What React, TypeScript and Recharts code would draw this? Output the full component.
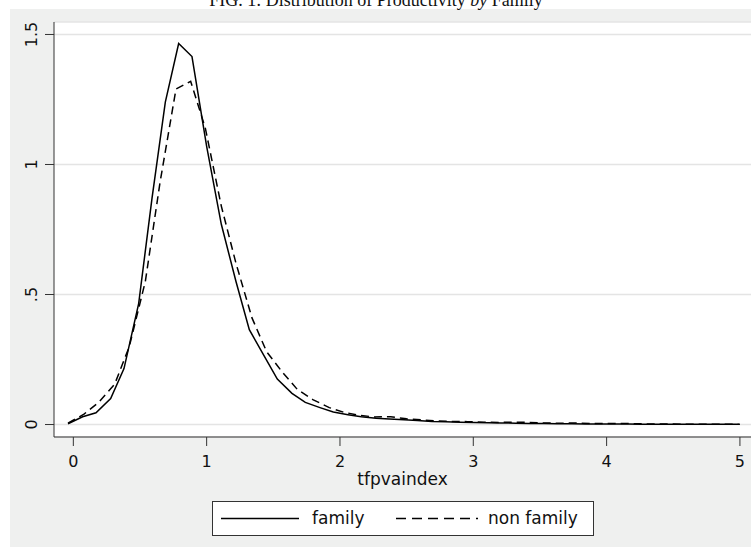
import React from 'react';
import { LineChart, Line, XAxis, YAxis, CartesianGrid } from 'recharts';

// kernel density estimates
const familyX = [
  -0.04, 0.07, 0.17, 0.28, 0.38, 0.49, 0.59, 0.69, 0.79, 0.89, 1.0, 1.11, 1.22, 1.32, 1.43, 1.53, 1.64,
  1.74, 1.85, 1.95, 2.06, 2.16, 2.27, 2.37, 2.48, 2.58, 2.69, 2.79, 2.9, 3.0, 3.11, 3.21, 3.32, 3.42,
  3.53, 3.63, 3.74, 3.84, 3.95, 4.05, 4.16, 4.26, 4.37, 4.47, 4.58, 4.68, 4.79, 4.89, 5.0,
];
const familyY = [
  0.003, 0.03, 0.045, 0.1, 0.215, 0.465, 0.87, 1.24, 1.465, 1.415, 1.07, 0.77, 0.55, 0.365, 0.265,
  0.175, 0.12, 0.085, 0.065, 0.048, 0.038, 0.03, 0.024, 0.021, 0.018, 0.015, 0.012, 0.011, 0.009,
  0.008, 0.007, 0.006, 0.005, 0.004, 0.004, 0.003, 0.003, 0.002, 0.002, 0.002, 0.002, 0.001, 0.001,
  0.001, 0.001, 0.001, 0.001, 0.001, 0.001,
];

const nonFamilyX = [
  -0.04, 0.08, 0.19, 0.31, 0.42, 0.54, 0.65, 0.77, 0.88, 0.99, 1.11, 1.22, 1.34, 1.45, 1.57, 1.68,
  1.8, 1.92, 2.03, 2.15, 2.26, 2.38, 2.5, 2.61, 2.73, 2.84, 2.96, 3.08, 3.19, 3.31, 3.42, 3.54, 3.66,
  3.77, 3.89, 4.0, 4.12, 4.24, 4.35, 4.47, 4.58, 4.7, 4.82, 4.93, 4.99,
];
const nonFamilyY = [
  0.005, 0.04, 0.085, 0.155, 0.3, 0.55, 0.93, 1.29, 1.32, 1.14, 0.84, 0.62, 0.41, 0.28, 0.2, 0.135,
  0.095, 0.065, 0.047, 0.035, 0.029, 0.03, 0.022, 0.018, 0.014, 0.012, 0.011, 0.009, 0.008, 0.009,
  0.008, 0.006, 0.005, 0.006, 0.004, 0.004, 0.004, 0.003, 0.002, 0.002, 0.001, 0.001, 0.001, 0.001,
  0.001,
];

const xTicks = [0, 1, 2, 3, 4, 5];
const yTicks = [0, 0.5, 1, 1.5];
const yTickLabels = ['0', '.5', '1', '1.5'];

const familyData = familyX.map((x, i) => ({ x, y: familyY[i] }));
const nonFamilyData = nonFamilyX.map((x, i) => ({ x, y: nonFamilyY[i] }));

const FONT = '"DejaVu Sans", sans-serif';
const AXIS = '#333';

const YTick = (props: any) => {
  const { y, payload } = props;
  const label = yTickLabels[yTicks.indexOf(payload.value)];
  return (
    <text
      x={37}
      y={y}
      transform={`rotate(-90, 37, ${y})`}
      textAnchor="middle"
      fontSize={16}
      fontFamily={FONT}
      fill="#111"
    >
      {label}
    </text>
  );
};

const XTick = (props: any) => {
  const { x, payload } = props;
  return (
    <text x={x} y={467} textAnchor="middle" fontSize={16} fontFamily={FONT} fill="#111">
      {payload.value}
    </text>
  );
};

const App = () => {
  return (
    <div style={{ position: 'absolute', left: 0, top: 0, width: 751, height: 547, background: '#fff', overflow: 'hidden' }}>
      <div style={{ position: 'absolute', left: 10, top: 9, width: 741, height: 538, background: '#eff0ef' }} />
      <div style={{ position: 'absolute', left: 0, top: 0 }}>
        <LineChart width={751} height={547} margin={{ top: 22, right: 0, left: 10, bottom: 50 }}>
          <CartesianGrid vertical={false} stroke="#e4e4e4" strokeWidth={1.5} fill="#fff" />
          <XAxis
            type="number"
            dataKey="x"
            domain={[-0.145, 5.083]}
            ticks={xTicks}
            allowDataOverflow
            height={60}
            tickSize={9}
            stroke={AXIS}
            tick={<XTick />}
            label={{
              value: 'tfpvaindex',
              position: 'insideBottom',
              offset: 12,
              fontSize: 17,
              fontFamily: FONT,
              fill: '#111',
            }}
          />
          <YAxis
            type="number"
            domain={[-0.048, 1.548]}
            ticks={yTicks}
            allowDataOverflow
            width={44}
            tickSize={9}
            stroke={AXIS}
            tick={<YTick />}
          />
          <Line
            data={familyData}
            dataKey="y"
            type="linear"
            stroke="#000"
            strokeWidth={1.5}
            dot={false}
            isAnimationActive={false}
          />
          <Line
            data={nonFamilyData}
            dataKey="y"
            type="linear"
            stroke="#000"
            strokeWidth={1.5}
            strokeDasharray="8 5"
            dot={false}
            isAnimationActive={false}
          />
        </LineChart>
      </div>
      <svg width={751} height={547} style={{ position: 'absolute', left: 0, top: 0, pointerEvents: 'none' }}>
        <text x={376} y={6} textAnchor="middle" fontSize={18} fontFamily='"Liberation Serif", serif' fill="#111">
          FIG. 1: Distribution of Productivity <tspan fontStyle="italic">by</tspan> Family
        </text>
        <rect x={212.5} y={501.5} width={381} height={34} fill="#fff" stroke={AXIS} strokeWidth={1} />
        <line x1={221} y1={518.5} x2={299} y2={518.5} stroke="#000" strokeWidth={1.5} />
        <text x={312} y={524} fontSize={17} fontFamily={FONT} fill="#111">
          family
        </text>
        <line x1={396} y1={518.5} x2={478} y2={518.5} stroke="#000" strokeWidth={1.5} strokeDasharray="10 6" />
        <text x={488} y={524} fontSize={17} fontFamily={FONT} fill="#111">
          non family
        </text>
      </svg>
    </div>
  );
};

export default App;
